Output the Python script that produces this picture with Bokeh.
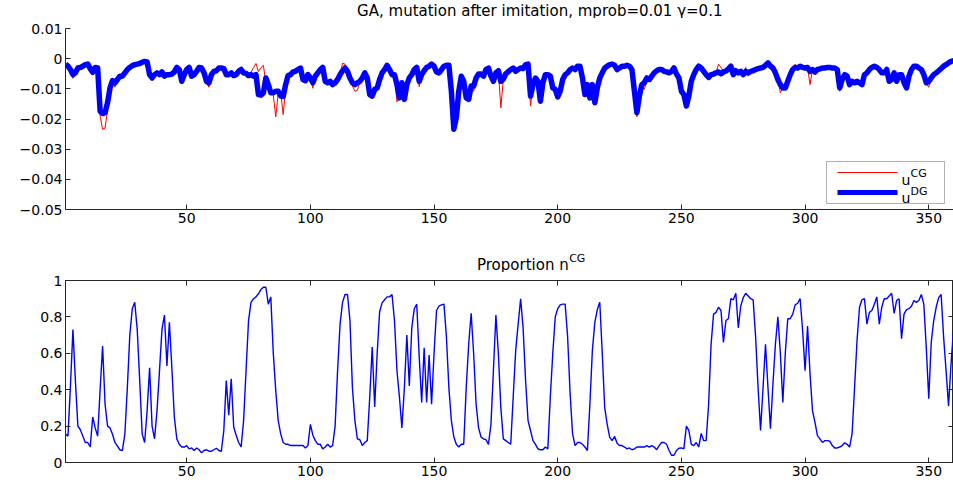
from bokeh.plotting import figure
from bokeh.models import (Range1d, FixedTicker, LinearAxis, CustomJSTickFormatter,
                          Label, BoxAnnotation, Arrow)
from bokeh.core.properties import value
from bokeh.layouts import column
from bokeh.embed import file_html
from bokeh.resources import INLINE

# ---------------- data ----------------
steps = list(range(1, 361))

u_dg = [
    -0.0018, -0.0025, -0.0036, -0.0053, -0.0047, -0.0031, -0.0029, -0.0025, -0.0020, -0.0018,
    -0.0033, -0.0045, -0.0029, -0.0031, -0.0174, -0.0182, -0.0179, -0.0146, -0.0097, -0.0073,
    -0.0080, -0.0069, -0.0058, -0.0058, -0.0047, -0.0036, -0.0029, -0.0023, -0.0020, -0.0018,
    -0.0016, -0.0012, -0.0009, -0.0011, -0.0053, -0.0064, -0.0053, -0.0047, -0.0053, -0.0044,
    -0.0058, -0.0053, -0.0053, -0.0051, -0.0044, -0.0029, -0.0036, -0.0075, -0.0053, -0.0036,
    -0.0029, -0.0058, -0.0053, -0.0042, -0.0029, -0.0031, -0.0047, -0.0075, -0.0080, -0.0053,
    -0.0042, -0.0040, -0.0031, -0.0031, -0.0033, -0.0053, -0.0053, -0.0047, -0.0056, -0.0053,
    -0.0042, -0.0036, -0.0047, -0.0049, -0.0056, -0.0053, -0.0058, -0.0053, -0.0119, -0.0121,
    -0.0113, -0.0064, -0.0086, -0.0113, -0.0113, -0.0108, -0.0108, -0.0124, -0.0125, -0.0086,
    -0.0056, -0.0053, -0.0044, -0.0042, -0.0036, -0.0031, -0.0069, -0.0073, -0.0053, -0.0064,
    -0.0080, -0.0058, -0.0047, -0.0036, -0.0029, -0.0075, -0.0080, -0.0075, -0.0086, -0.0080,
    -0.0069, -0.0053, -0.0040, -0.0031, -0.0042, -0.0064, -0.0080, -0.0086, -0.0080, -0.0075,
    -0.0064, -0.0047, -0.0064, -0.0119, -0.0124, -0.0102, -0.0097, -0.0069, -0.0047, -0.0036,
    -0.0022, -0.0036, -0.0053, -0.0053, -0.0086, -0.0130, -0.0080, -0.0135, -0.0086, -0.0064,
    -0.0053, -0.0036, -0.0029, -0.0075, -0.0053, -0.0040, -0.0029, -0.0025, -0.0018, -0.0025,
    -0.0044, -0.0047, -0.0036, -0.0025, -0.0022, -0.0022, -0.0108, -0.0234, -0.0196, -0.0108,
    -0.0058, -0.0075, -0.0130, -0.0135, -0.0091, -0.0091, -0.0064, -0.0051, -0.0051, -0.0058,
    -0.0036, -0.0031, -0.0058, -0.0075, -0.0047, -0.0040, -0.0075, -0.0068, -0.0050, -0.0043,
    -0.0036, -0.0031, -0.0042, -0.0036, -0.0031, -0.0033, -0.0020, -0.0018, -0.0124, -0.0086,
    -0.0064, -0.0075, -0.0141, -0.0080, -0.0053, -0.0053, -0.0058, -0.0097, -0.0102, -0.0127,
    -0.0108, -0.0069, -0.0053, -0.0047, -0.0036, -0.0031, -0.0036, -0.0025, -0.0025, -0.0064,
    -0.0119, -0.0086, -0.0130, -0.0086, -0.0146, -0.0097, -0.0064, -0.0047, -0.0031, -0.0025,
    -0.0020, -0.0018, -0.0022, -0.0036, -0.0031, -0.0025, -0.0025, -0.0022, -0.0025, -0.0036,
    -0.0108, -0.0179, -0.0124, -0.0086, -0.0080, -0.0064, -0.0069, -0.0058, -0.0047, -0.0040,
    -0.0036, -0.0036, -0.0042, -0.0044, -0.0047, -0.0042, -0.0031, -0.0051, -0.0064, -0.0108,
    -0.0119, -0.0157, -0.0124, -0.0075, -0.0053, -0.0036, -0.0025, -0.0031, -0.0042, -0.0053,
    -0.0062, -0.0053, -0.0051, -0.0047, -0.0044, -0.0050, -0.0044, -0.0041, -0.0034, -0.0025,
    -0.0053, -0.0040, -0.0047, -0.0042, -0.0053, -0.0042, -0.0047, -0.0042, -0.0040, -0.0036,
    -0.0033, -0.0031, -0.0029, -0.0022, -0.0014, -0.0025, -0.0031, -0.0047, -0.0069, -0.0086,
    -0.0097, -0.0097, -0.0075, -0.0053, -0.0036, -0.0029, -0.0031, -0.0025, -0.0029, -0.0031,
    -0.0029, -0.0042, -0.0036, -0.0044, -0.0036, -0.0034, -0.0031, -0.0031, -0.0029, -0.0029,
    -0.0031, -0.0031, -0.0036, -0.0097, -0.0069, -0.0053, -0.0058, -0.0086, -0.0075, -0.0080,
    -0.0075, -0.0080, -0.0086, -0.0053, -0.0047, -0.0036, -0.0029, -0.0025, -0.0029, -0.0036,
    -0.0047, -0.0047, -0.0036, -0.0075, -0.0069, -0.0047, -0.0075, -0.0053, -0.0053, -0.0080,
    -0.0097, -0.0058, -0.0036, -0.0025, -0.0025, -0.0031, -0.0036, -0.0053, -0.0080, -0.0075,
    -0.0064, -0.0053, -0.0047, -0.0040, -0.0033, -0.0025, -0.0020, -0.0014, -0.0009, -0.0007,
]

u_cg = [
    -0.0018, -0.0025, -0.0040, -0.0065, -0.0050, -0.0031, -0.0029, -0.0025, -0.0020, -0.0018,
    -0.0033, -0.0045, -0.0029, -0.0031, -0.0190, -0.0234, -0.0230, -0.0170, -0.0110, -0.0073,
    -0.0095, -0.0069, -0.0058, -0.0058, -0.0047, -0.0036, -0.0029, -0.0023, -0.0020, -0.0018,
    -0.0016, -0.0012, -0.0009, -0.0011, -0.0053, -0.0064, -0.0053, -0.0047, -0.0053, -0.0044,
    -0.0058, -0.0053, -0.0053, -0.0051, -0.0044, -0.0029, -0.0036, -0.0082, -0.0053, -0.0036,
    -0.0029, -0.0058, -0.0053, -0.0042, -0.0029, -0.0031, -0.0047, -0.0080, -0.0095, -0.0053,
    -0.0042, -0.0040, -0.0031, -0.0031, -0.0033, -0.0053, -0.0053, -0.0047, -0.0056, -0.0053,
    -0.0042, -0.0036, -0.0047, -0.0049, -0.0050, -0.0045, -0.0030, -0.0016, -0.0043, -0.0030,
    -0.0022, -0.0080, -0.0095, -0.0110, -0.0120, -0.0193, -0.0115, -0.0110, -0.0185, -0.0100,
    -0.0056, -0.0053, -0.0044, -0.0042, -0.0036, -0.0031, -0.0069, -0.0073, -0.0053, -0.0064,
    -0.0098, -0.0058, -0.0047, -0.0036, -0.0029, -0.0075, -0.0080, -0.0075, -0.0086, -0.0080,
    -0.0069, -0.0053, -0.0015, -0.0018, -0.0042, -0.0064, -0.0090, -0.0108, -0.0105, -0.0075,
    -0.0064, -0.0047, -0.0064, -0.0119, -0.0124, -0.0102, -0.0097, -0.0069, -0.0047, -0.0036,
    -0.0022, -0.0036, -0.0053, -0.0053, -0.0143, -0.0130, -0.0080, -0.0135, -0.0086, -0.0064,
    -0.0053, -0.0036, -0.0029, -0.0093, -0.0053, -0.0040, -0.0029, -0.0025, -0.0018, -0.0025,
    -0.0044, -0.0047, -0.0036, -0.0025, -0.0022, -0.0022, -0.0108, -0.0242, -0.0196, -0.0108,
    -0.0058, -0.0075, -0.0130, -0.0135, -0.0091, -0.0108, -0.0064, -0.0051, -0.0051, -0.0064,
    -0.0036, -0.0031, -0.0058, -0.0075, -0.0047, -0.0040, -0.0163, -0.0068, -0.0050, -0.0043,
    -0.0036, -0.0031, -0.0042, -0.0036, -0.0031, -0.0033, -0.0020, -0.0018, -0.0157, -0.0086,
    -0.0064, -0.0075, -0.0150, -0.0080, -0.0053, -0.0053, -0.0058, -0.0097, -0.0102, -0.0127,
    -0.0108, -0.0069, -0.0053, -0.0047, -0.0036, -0.0031, -0.0036, -0.0025, -0.0025, -0.0064,
    -0.0119, -0.0086, -0.0130, -0.0086, -0.0146, -0.0097, -0.0064, -0.0047, -0.0031, -0.0025,
    -0.0020, -0.0018, -0.0022, -0.0036, -0.0031, -0.0025, -0.0025, -0.0022, -0.0025, -0.0036,
    -0.0108, -0.0193, -0.0124, -0.0086, -0.0102, -0.0075, -0.0069, -0.0058, -0.0047, -0.0040,
    -0.0036, -0.0036, -0.0042, -0.0044, -0.0047, -0.0042, -0.0031, -0.0051, -0.0064, -0.0108,
    -0.0119, -0.0163, -0.0124, -0.0075, -0.0053, -0.0036, -0.0025, -0.0031, -0.0042, -0.0053,
    -0.0062, -0.0053, -0.0051, -0.0047, -0.0018, -0.0029, -0.0044, -0.0041, -0.0034, -0.0025,
    -0.0053, -0.0040, -0.0047, -0.0042, -0.0053, -0.0029, -0.0058, -0.0042, -0.0040, -0.0036,
    -0.0033, -0.0031, -0.0029, -0.0022, -0.0014, -0.0025, -0.0020, -0.0047, -0.0069, -0.0113,
    -0.0097, -0.0097, -0.0075, -0.0053, -0.0036, -0.0018, -0.0031, -0.0025, -0.0029, -0.0031,
    -0.0029, -0.0086, -0.0036, -0.0053, -0.0036, -0.0034, -0.0031, -0.0031, -0.0029, -0.0029,
    -0.0031, -0.0031, -0.0036, -0.0108, -0.0069, -0.0053, -0.0058, -0.0086, -0.0075, -0.0080,
    -0.0075, -0.0080, -0.0086, -0.0053, -0.0047, -0.0036, -0.0029, -0.0025, -0.0029, -0.0036,
    -0.0047, -0.0047, -0.0036, -0.0075, -0.0069, -0.0047, -0.0075, -0.0053, -0.0053, -0.0080,
    -0.0097, -0.0058, -0.0036, -0.0025, -0.0025, -0.0031, -0.0036, -0.0053, -0.0080, -0.0095,
    -0.0064, -0.0053, -0.0047, -0.0040, -0.0033, -0.0025, -0.0020, -0.0014, -0.0009, -0.0007,
]

n_cg = [
    0.157, 0.145, 0.42, 0.73, 0.45, 0.20, 0.18, 0.145, 0.11, 0.11,
    0.085, 0.25, 0.19, 0.145, 0.40, 0.64, 0.32, 0.20, 0.19, 0.155,
    0.11, 0.09, 0.07, 0.065, 0.157, 0.41, 0.70, 0.845, 0.88, 0.73,
    0.45, 0.157, 0.11, 0.285, 0.52, 0.20, 0.13, 0.285, 0.505, 0.73,
    0.81, 0.53, 0.77, 0.52, 0.25, 0.13, 0.10, 0.085, 0.085, 0.093,
    0.075, 0.08, 0.066, 0.08, 0.07, 0.053, 0.066, 0.07, 0.062, 0.062,
    0.07, 0.078, 0.066, 0.062, 0.175, 0.45, 0.26, 0.46, 0.195, 0.15,
    0.11, 0.085, 0.23, 0.505, 0.78, 0.88, 0.90, 0.91, 0.927, 0.95,
    0.963, 0.963, 0.87, 0.91, 0.60, 0.395, 0.23, 0.157, 0.11, 0.10,
    0.10, 0.093, 0.093, 0.093, 0.093, 0.093, 0.093, 0.08, 0.093, 0.21,
    0.15, 0.12, 0.10, 0.10, 0.075, 0.085, 0.10, 0.085, 0.093, 0.20,
    0.505, 0.76, 0.88, 0.923, 0.923, 0.78, 0.41, 0.23, 0.13, 0.125,
    0.093, 0.11, 0.12, 0.36, 0.634, 0.305, 0.60, 0.83, 0.877, 0.894,
    0.91, 0.91, 0.923, 0.78, 0.505, 0.36, 0.19, 0.41, 0.70, 0.42,
    0.74, 0.845, 0.87, 0.58, 0.33, 0.63, 0.33, 0.59, 0.32, 0.60,
    0.835, 0.86, 0.866, 0.87, 0.69, 0.41, 0.23, 0.14, 0.10, 0.085,
    0.10, 0.10, 0.41, 0.65, 0.82, 0.60, 0.32, 0.19, 0.14, 0.13,
    0.125, 0.10, 0.21, 0.505, 0.81, 0.60, 0.30, 0.13, 0.12, 0.11,
    0.10, 0.36, 0.615, 0.76, 0.90, 0.74, 0.45, 0.23, 0.176, 0.12,
    0.10, 0.075, 0.07, 0.07, 0.085, 0.075, 0.36, 0.60, 0.80, 0.845,
    0.866, 0.87, 0.87, 0.69, 0.38, 0.157, 0.093, 0.11, 0.11, 0.10,
    0.085, 0.066, 0.32, 0.615, 0.77, 0.84, 0.88, 0.60, 0.30, 0.21,
    0.14, 0.12, 0.143, 0.106, 0.093, 0.093, 0.085, 0.075, 0.08, 0.07,
    0.075, 0.085, 0.085, 0.085, 0.085, 0.093, 0.085, 0.093, 0.085, 0.07,
    0.093, 0.11, 0.11, 0.10, 0.066, 0.04, 0.04, 0.066, 0.078, 0.08,
    0.075, 0.20, 0.176, 0.10, 0.093, 0.11, 0.085, 0.16, 0.12, 0.12,
    0.32, 0.65, 0.815, 0.825, 0.853, 0.835, 0.66, 0.78, 0.79, 0.90,
    0.894, 0.93, 0.74, 0.86, 0.906, 0.93, 0.915, 0.90, 0.894, 0.69,
    0.41, 0.176, 0.41, 0.65, 0.41, 0.185, 0.43, 0.65, 0.80, 0.60,
    0.33, 0.60, 0.79, 0.79, 0.815, 0.866, 0.875, 0.90, 0.725, 0.505,
    0.75, 0.487, 0.285, 0.22, 0.148, 0.13, 0.11, 0.12, 0.12, 0.117,
    0.093, 0.08, 0.08, 0.085, 0.093, 0.108, 0.10, 0.085, 0.157, 0.41,
    0.67, 0.853, 0.894, 0.90, 0.76, 0.825, 0.835, 0.87, 0.91, 0.76,
    0.853, 0.90, 0.90, 0.915, 0.93, 0.82, 0.89, 0.90, 0.68, 0.815,
    0.84, 0.845, 0.858, 0.89, 0.88, 0.89, 0.923, 0.87, 0.63, 0.35,
    0.66, 0.78, 0.853, 0.906, 0.923, 0.69, 0.505, 0.31, 0.54, 0.73,
]

x_ticks = [50, 100, 150, 200, 250, 300, 350]
top_y_ticks = [-0.05, -0.04, -0.03, -0.02, -0.01, 0, 0.01]
top_y_labels = ["\u22120.05", "\u22120.04", "\u22120.03", "\u22120.02", "\u22120.01", "0", "0.01"]
bot_y_ticks = [0, 0.2, 0.4, 0.6, 0.8, 1]
bot_y_labels = ["0", "0.2", "0.4", "0.6", "0.8", "1"]

title_top = "GA, mutation after imitation, mprob=0.01 \u03b3=0.1"
title_bot = "Proportion n"
title_bot_sup = "CG"
legend_base = "u"
legend_sups = ["CG", "DG"]

FONT = "DejaVu Sans"
AX = "#262626"

# page geometry (pixels)
W = 953
LEFT = 65
FW = W - LEFT          # frame width
FH1 = 181              # top frame height
FH2 = 182              # bottom frame height
T1H = 18               # strip holding the top title
P1H = 220
T2H = 34               # strip holding the bottom title
P2H = 485 - T1H - P1H - T2H
P2TOP = 8


def style_axis(ax, ticks, overrides=None, show_labels=True):
    ax.ticker = FixedTicker(ticks=ticks)
    ax.axis_line_color = AX
    ax.axis_line_width = 1
    ax.major_tick_line_color = AX
    ax.major_tick_in = 5
    ax.major_tick_out = 0
    ax.minor_tick_line_color = None
    ax.major_label_text_font = FONT
    ax.major_label_text_font_size = "14px"
    ax.major_label_text_color = "black"
    if show_labels:
        ax.major_label_standoff = 3
        if overrides:
            ax.major_label_overrides = overrides
    else:
        ax.major_label_standoff = 0
        ax.formatter = CustomJSTickFormatter(code="return ''")


def screen_label(p, x, y, text, size, align="left", baseline="alphabetic"):
    p.add_layout(Label(x=x, y=y, x_units="screen", y_units="screen", text=text,
                       text_font=FONT, text_font_size=size, text_color="black",
                       text_align=align, text_baseline=baseline))


def text_strip(h):
    f = figure(width=W, height=h, output_backend="svg", toolbar_location=None,
               x_range=Range1d(0, W), y_range=Range1d(0, h),
               x_axis_location=None, y_axis_location=None,
               min_border_left=0, min_border_right=0, min_border_top=0, min_border_bottom=0)
    f.grid.visible = False
    f.outline_line_color = None
    f.background_fill_color = "white"
    f.border_fill_color = "white"
    return f


def put_text(f, x, y, text, size, align="left", baseline="alphabetic"):
    f.text(x=[x], y=[y], text=[text], text_font=value(FONT), text_font_size=value(size),
           text_color="black", text_align=align, text_baseline=baseline)


# ---------------- top title strip ----------------
t1 = text_strip(T1H)
put_text(t1, LEFT + FW / 2, T1H - 10, title_top, "15px", align="center", baseline="middle")

# ---------------- top plot ----------------
p1 = figure(width=W, height=P1H, output_backend="svg", toolbar_location=None,
            x_range=Range1d(1, 360), y_range=Range1d(-0.05, 0.01),
            min_border_left=LEFT, min_border_right=0, min_border_top=10,
            min_border_bottom=P1H - 10 - FH1)
p1.grid.visible = False
p1.outline_line_color = None
p1.background_fill_color = "white"
p1.border_fill_color = "white"

p1.line(steps, u_cg, line_color="#ff0000", line_width=1)
p1.line(steps, u_dg, line_color="#0000ff", line_width=5.5, line_join="round")

style_axis(p1.xaxis[0], x_ticks)
style_axis(p1.yaxis[0], top_y_ticks, dict(zip(top_y_ticks, top_y_labels)))

# legend (drawn by hand so that the superscripts are real raised text)
p1.add_layout(BoxAnnotation(left=FW - 127, right=FW - 9, bottom=6, top=48,
                            left_units="screen", right_units="screen",
                            bottom_units="screen", top_units="screen",
                            fill_color="white", fill_alpha=1,
                            line_color="black", line_width=1))
p1.add_layout(Arrow(end=None, x_start=FW - 116, y_start=37, x_end=FW - 56, y_end=37,
                    start_units="screen", end_units="screen",
                    line_color="#ff0000", line_width=1))
p1.add_layout(Arrow(end=None, x_start=FW - 116, y_start=17, x_end=FW - 56, y_end=17,
                    start_units="screen", end_units="screen",
                    line_color="#0000ff", line_width=5))
for yb, ys, sup in [(30, 36, legend_sups[0]), (12, 18, legend_sups[1])]:
    screen_label(p1, FW - 52, yb, legend_base, "14px")
    screen_label(p1, FW - 43, ys, sup, "11px")

# ---------------- bottom title strip ----------------
t2 = text_strip(T2H)
put_text(t2, LEFT + FW / 2 + 31, 8, title_bot, "15px", align="right")
put_text(t2, LEFT + FW / 2 + 31.5, 14, title_bot_sup, "11px")

# ---------------- bottom plot ----------------
p2 = figure(width=W, height=P2H, output_backend="svg", toolbar_location=None,
            x_range=Range1d(1, 360), y_range=Range1d(0, 1),
            min_border_left=LEFT, min_border_right=0, min_border_top=P2TOP,
            min_border_bottom=P2H - P2TOP - FH2)
p2.grid.visible = False
p2.outline_line_color = AX
p2.background_fill_color = "white"
p2.border_fill_color = "white"

p2.line(steps, n_cg, line_color="#0000ff", line_width=1.4)

style_axis(p2.xaxis[0], x_ticks)
style_axis(p2.yaxis[0], bot_y_ticks, dict(zip(bot_y_ticks, bot_y_labels)))
top_ax = LinearAxis()
style_axis(top_ax, x_ticks, show_labels=False)
p2.add_layout(top_ax, "above")
right_ax = LinearAxis()
style_axis(right_ax, bot_y_ticks, show_labels=False)
p2.add_layout(right_ax, "right")

layout = column(t1, p1, t2, p2, spacing=0)
open("out.html", "w").write(file_html(layout, INLINE))
